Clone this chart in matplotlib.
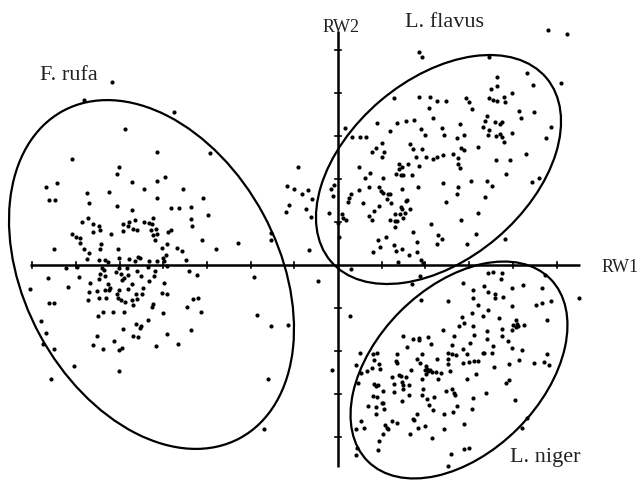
"""Ordination plot of three ant species on RW1/RW2 with group ellipses."""

import matplotlib.pyplot as plt
import numpy as np
from matplotlib.patches import Ellipse

plt.rcParams["font.family"] = ["Liberation Serif", "DejaVu Serif"]

# scores (RW1, RW2), one tick step = 43.7 units on RW1 and 43 units on RW2
rufa_scores = [
    (-226, 183), (-254, 165), (-213, 136), (-181, 113), (-266, 106), (-164, 153), (-128, 112),
    (-219, 98), (-221, 91), (-292, 78), (-281, 82), (-206, 83), (-194, 76), (-181, 84),
    (-181, 67), (-289, 65), (-283, 65), (-251, 72), (-229, 73), (-249, 62), (-221, 59),
    (-206, 55), (-250, 47), (-256, 43), (-245, 41), (-239, 39), (-245, 33), (-238, 35),
    (-227, 31), (-215, 41), (-209, 43), (-203, 45), (-210, 39), (-205, 36), (-201, 35),
    (-215, 34), (-194, 43), (-189, 42), (-185, 47), (-186, 41), (-187, 35), (-182, 36),
    (-185, 30), (-181, 31), (-183, 25), (-266, 31), (-262, 28), (-258, 27), (-258, 22),
    (-237, 21), (-238, 16), (-254, 16), (-249, 12), (-284, 16), (-220, 16), (-251, 6),
    (-239, 5), (-233, 5), (-230, 3), (-219, 7), (-209, 6), (-203, 4), (-200, 8), (-198, 7),
    (-189, 4), (-181, 4), (-272, -3), (-261, -2), (-236, -3), (-234, -5), (-219, -3),
    (-222, -7), (-211, -3), (-201, -6), (-190, -2), (-183, -6), (-238, -9), (-233, -11),
    (-217, -9), (-210, -10), (-197, -11), (-184, -11), (-290, -13), (-259, -12), (-239, -14),
    (-216, -15), (-214, -13), (-189, -16), (-248, -18), (-230, -19), (-206, -19), (-270, -22),
    (-308, -24), (-228, -23), (-229, -25), (-233, -25), (-241, -26), (-219, -25), (-210, -24),
    (-195, -23), (-249, -27), (-221, -29), (-220, -33), (-202, -29), (-196, -29), (-239, -33),
    (-232, -33), (-250, -35), (-217, -35), (-213, -37), (-206, -35), (-205, -40), (-201, -34),
    (-289, -38), (-284, -38), (-185, -39), (-186, -42), (-225, -47), (-214, -47), (-235, -47),
    (-240, -51), (-297, -56), (-190, -55), (-173, 88), (-155, 76), (-135, 67), (-167, 57),
    (-159, 57), (-147, 58), (-130, 50), (-147, 46), (-146, 39), (-170, 33), (-167, 35),
    (-136, 25), (-100, 22), (-67, 32), (-67, 25), (-176, 17), (-171, 21), (-161, 17),
    (-156, 14), (-122, 16), (-172, 10), (-175, 7), (-174, 4), (-152, 5), (-171, -1),
    (-149, -6), (-141, -10), (-84, -12), (-174, -18), (-176, -28), (-171, -29), (-145, -34),
    (-140, -33), (-151, -42), (-137, -47), (-175, -48), (-81, -50), (-292, -68), (-295, -79),
    (-284, -84), (-241, -71), (-245, -80), (-235, -84), (-224, -76), (-215, -64), (-202, -59),
    (-198, -63), (-197, -61), (-205, -71), (-200, -72), (-219, -85), (-216, -83), (-182, -81),
    (-264, -101), (-219, -106), (-287, -114), (-171, -69), (-147, -65), (-160, -79),
    (-67, -61), (-50, -60), (-70, -114), (-74, -164),
]

flavus_scores = [
    (81, 213), (84, 208), (56, 167), (81, 168), (92, 168), (99, 164), (108, 164), (91, 157),
    (128, 167), (131, 163), (134, 156), (95, 147), (7, 137), (39, 142), (59, 142), (68, 144),
    (76, 145), (52, 134), (83, 136), (104, 137), (122, 141), (14, 128), (22, 128), (28, 128),
    (87, 130), (106, 130), (126, 130), (119, 127), (44, 122), (38, 117), (34, 113), (46, 113),
    (72, 121), (75, 116), (84, 116), (123, 117), (126, 115), (140, 118), (44, 108), (78, 108),
    (88, 108), (95, 106), (99, 108), (105, 110), (115, 111), (120, 107), (210, 235), (229, 231),
    (151, 208), (189, 192), (159, 188), (195, 180), (223, 182), (153, 176), (159, 179),
    (174, 172), (151, 167), (155, 165), (159, 164), (166, 168), (167, 163), (181, 154),
    (183, 147), (196, 153), (149, 149), (147, 144), (157, 143), (162, 141), (164, 143),
    (145, 138), (151, 135), (150, 130), (158, 129), (162, 131), (164, 128), (166, 123),
    (174, 132), (213, 138), (208, 127), (188, 111), (158, 105), (172, 105), (-40, 98),
    (-51, 79), (-44, 76), (-30, 75), (-36, 71), (-26, 66), (-49, 60), (-52, 53), (-32, 56),
    (-27, 48), (-29, 15), (21, 98), (61, 101), (64, 98), (61, 96), (70, 101), (81, 99),
    (120, 101), (122, 97), (27, 87), (32, 92), (45, 87), (58, 91), (63, 90), (65, 90), (74, 90),
    (-7, 76), (-4, 80), (-5, 69), (31, 78), (41, 78), (43, 74), (45, 72), (21, 75), (13, 71),
    (11, 67), (10, 63), (25, 62), (50, 71), (52, 71), (49, 66), (53, 62), (64, 76), (80, 78),
    (105, 82), (120, 78), (119, 71), (133, 84), (69, 65), (68, 64), (63, 58), (64, 56),
    (72, 56), (41, 59), (36, 54), (31, 49), (34, 45), (52, 45), (57, 44), (59, 44), (57, 51),
    (62, 51), (67, 52), (65, 47), (57, 38), (108, 63), (-9, 52), (4, 51), (5, 47), (8, 45),
    (0, 42), (93, 41), (123, 45), (140, 52), (75, 33), (100, 30), (104, 26), (138, 31),
    (48, 28), (40, 25), (79, 23), (99, 21), (129, 21), (1, 28), (42, 18), (56, 20), (35, 13),
    (58, 14), (64, 16), (79, 13), (71, 10), (60, 3), (83, 5), (85, 2), (168, 91), (149, 84),
    (154, 79), (194, 83), (201, 87), (147, 68), (167, 26),
]

niger_scores = [
    (-20, -16), (13, -4), (82, -11), (74, -19), (125, -18), (135, -25), (135, -33), (83, -35),
    (110, -36), (140, -40), (134, -48), (124, -52), (12, -51), (150, -8), (155, -7), (164, -8),
    (163, -14), (207, -10), (146, -21), (174, -23), (185, -20), (204, -23), (150, -27),
    (157, -29), (157, -33), (165, -32), (241, -33), (213, -36), (204, -38), (198, -40),
    (174, -41), (150, -45), (145, -51), (161, -53), (178, -55), (209, -55), (-6, -105),
    (22, -88), (35, -89), (39, -88), (36, -95), (41, -99), (18, -100), (34, -103), (42, -104),
    (29, -106), (23, -108), (20, -118), (65, -71), (69, -82), (75, -74), (81, -73), (81, -75),
    (90, -72), (93, -79), (105, -65), (116, -71), (121, -61), (126, -58), (135, -61),
    (136, -70), (132, -78), (114, -80), (125, -84), (59, -89), (84, -89), (110, -88),
    (114, -89), (118, -90), (129, -89), (79, -94), (82, -98), (58, -96), (59, -98), (99, -94),
    (110, -94), (136, -96), (140, -96), (125, -98), (131, -97), (110, -99), (73, -105),
    (88, -101), (89, -104), (87, -105), (90, -106), (92, -105), (88, -109), (94, -107),
    (98, -107), (103, -108), (112, -106), (138, -109), (54, -112), (63, -111), (61, -110),
    (68, -112), (64, -117), (65, -120), (71, -120), (56, -119), (84, -114), (100, -114),
    (129, -114), (36, -119), (38, -121), (40, -120), (45, -126), (56, -127), (65, -124),
    (85, -124), (71, -130), (35, -131), (39, -132), (84, -130), (89, -134), (96, -132),
    (108, -126), (114, -124), (116, -128), (117, -130), (135, -133), (64, -136), (44, -138),
    (45, -138), (30, -141), (38, -142), (46, -144), (91, -140), (95, -145), (119, -141),
    (115, -147), (106, -149), (134, -144), (79, -149), (38, -149), (75, -154), (76, -155),
    (54, -156), (59, -158), (23, -156), (26, -163), (18, -164), (47, -160), (49, -163),
    (50, -164), (45, -169), (80, -163), (87, -161), (106, -164), (126, -159), (72, -169),
    (94, -173), (41, -176), (19, -183), (40, -185), (126, -184), (131, -183), (18, -190),
    (113, -189), (110, -201), (179, -59), (180, -61), (178, -62), (175, -60), (186, -60),
    (164, -64), (174, -65), (149, -66), (164, -71), (170, -76), (149, -74), (155, -81),
    (174, -83), (184, -85), (145, -88), (146, -88), (154, -88), (209, -89), (181, -95),
    (171, -99), (196, -98), (206, -97), (211, -100), (156, -102), (171, -115), (168, -118),
    (148, -128), (177, -135), (189, -153), (184, -163),
]

# group ellipses: centre (RW1, RW2), full width, full height, angle in degrees
group_names = ["F. rufa", "L. flavus", "L. niger"]
ellipse_centres = [(-186.5, -9.5), (100.5, 95.5), (121, -105)]
ellipse_widths = [372, 283, 258]
ellipse_heights = [254, 180, 166]
ellipse_angles = [118.4, 40.4, 45]
label_positions = [(-298, 185), (67, 238), (172, -197)]

rw1_ticks = np.arange(-7, 6) * 43.7
rw2_ticks = np.arange(-4, 6) * 43.0


def draw_axes_cross(axis):
    axis.plot([-308, 242], [0, 0], color="black", lw=1.8, solid_capstyle="butt")
    axis.plot([0, 0], [-202, 234], color="black", lw=1.8, solid_capstyle="butt")
    for tick in rw1_ticks:
        if tick != 0:
            axis.plot([tick, tick], [-2.8, 2.8], color="black", lw=1.2)
    for tick in rw2_ticks:
        if tick != 0:
            axis.plot([-2.8, 2.8], [tick, tick], color="black", lw=1.2)
    axis.text(264, -7.5, "RW1", fontsize=13, color="#222222", ha="left", va="baseline")
    axis.text(-15, 233, "RW2", fontsize=13, color="#222222", ha="left", va="baseline")


figure = plt.figure(figsize=(6.4, 4.83), dpi=100)
axis = figure.add_axes([0, 0, 1, 1])
axis.set_xlim(-338, 302)
axis.set_ylim(-218, 265)
axis.axis("off")

draw_axes_cross(axis)

for scores in (rufa_scores, flavus_scores, niger_scores):
    points = np.array(scores, dtype=float)
    axis.plot(points[:, 0], points[:, 1], "o", ms=3.0, color="black", mec="none")

for name, centre, width, height, angle, label_xy in zip(
    group_names, ellipse_centres, ellipse_widths, ellipse_heights, ellipse_angles, label_positions
):
    axis.add_patch(Ellipse(centre, width, height, angle=angle, fill=False,
                           edgecolor="black", lw=1.6))
    axis.text(label_xy[0], label_xy[1], name, fontsize=16, color="#222222",
              ha="left", va="baseline")

figure.savefig("out.png", dpi=100)
plt.close(figure)
